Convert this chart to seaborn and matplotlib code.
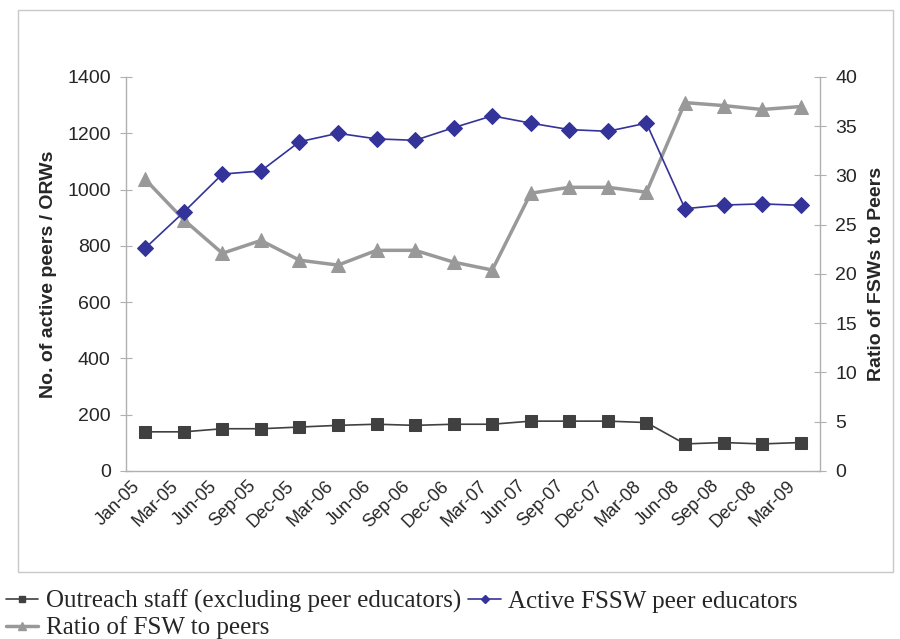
import numpy as np
import pandas as pd
import matplotlib
matplotlib.use("Agg")
import matplotlib.pyplot as plt
from matplotlib.patches import Rectangle
from matplotlib.lines import Line2D
import seaborn as sns

# data
periods = ["Jan-05", "Mar-05", "Jun-05", "Sep-05", "Dec-05", "Mar-06", "Jun-06", "Sep-06", "Dec-06",
           "Mar-07", "Jun-07", "Sep-07", "Dec-07", "Mar-08", "Jun-08", "Sep-08", "Dec-08", "Mar-09"]
outreach_staff = [139, 139, 150, 150, 156, 162, 166, 162, 166, 166, 177, 177, 177, 172, 96, 101, 96, 101]
active_peers = [792, 920, 1055, 1066, 1170, 1200, 1180, 1175, 1220, 1262, 1236, 1213, 1207, 1236,
                932, 945, 949, 944]
ratio_fsw = [29.6, 25.5, 22.1, 23.4, 21.4, 20.9, 22.4, 22.4, 21.2, 20.4, 28.2, 28.8, 28.8, 28.3,
             37.4, 37.1, 36.7, 37.0]

df = pd.DataFrame({"period": periods, "staff": outreach_staff,
                   "peers": active_peers, "ratio": ratio_fsw})
df["x"] = np.arange(len(df))

sns.set_style("white")
plt.rcParams["font.family"] = ["Liberation Sans", "DejaVu Sans"]

c_staff = "#404040"
c_peers = "#333399"
c_ratio = "#999999"
c_axis = "#b0b0b0"

fig = plt.figure(figsize=(9, 6.39), dpi=100)
ax = fig.add_axes([0.14, 0.263, 0.771, 0.6165])
ax2 = ax.twinx()

sns.lineplot(data=df, x="x", y="ratio", ax=ax2, color=c_ratio, lw=2.5, marker="^",
             markersize=10, markeredgecolor=c_ratio, zorder=2)
sns.lineplot(data=df, x="x", y="staff", ax=ax, color=c_staff, lw=1.2, marker="s",
             markersize=8, markeredgecolor=c_staff)
sns.lineplot(data=df, x="x", y="peers", ax=ax, color=c_peers, lw=1.2, marker="D",
             markersize=8.5, markeredgecolor=c_peers)

# left axis above right so blue/black lines sit on top
ax.set_zorder(ax2.get_zorder() + 1)
ax.patch.set_visible(False)

ax.set_xlim(-0.5, len(df) - 0.5)
ax.set_ylim(0, 1400)
ax2.set_ylim(0, 40)
ax.set_yticks(np.arange(0, 1401, 200))
ax2.set_yticks(np.arange(0, 41, 5))

# labels sit a little left of the category centre, like the Excel original
ax.set_xticks(df["x"] - 0.2)
ax.set_xticklabels(periods, rotation=45, ha="right", va="center", rotation_mode="anchor", fontsize=13)
ax.set_xticks(np.arange(-0.5, len(df), 1), minor=True)
ax.tick_params(axis="x", which="major", length=0, pad=9)
ax.tick_params(axis="x", which="minor", length=7, color=c_axis, direction="out")
ax.tick_params(axis="y", labelsize=14, length=8, color=c_axis, direction="inout", pad=7)
ax2.tick_params(axis="y", labelsize=14, length=8, color=c_axis, direction="inout", pad=7)

ax.set_xlabel("")
ax.set_ylabel("No. of active peers / ORWs", fontsize=14, fontweight="bold", labelpad=7.5)
ax2.set_ylabel("Ratio of FSWs to Peers", fontsize=14, fontweight="bold", labelpad=8)

for a in (ax, ax2):
    a.spines["top"].set_visible(False)
    for s in ("left", "right", "bottom"):
        a.spines[s].set_color(c_axis)
        a.spines[s].set_linewidth(1)
ax.spines["right"].set_visible(False)
ax2.spines["left"].set_visible(False)
ax2.spines["bottom"].set_visible(False)

# chart frame
fig.patches.append(Rectangle((18 / 900, 67 / 639), 875 / 900, 562 / 639, transform=fig.transFigure,
                             fill=False, edgecolor="#c8c8c8", lw=1))

handles = [
    Line2D([], [], color=c_staff, lw=1.2, marker="s", markersize=5),
    Line2D([], [], color=c_ratio, lw=2.5, marker="^", markersize=6),
    Line2D([], [], color=c_peers, lw=1.2, marker="D", markersize=4),
]
labels = ["Outreach staff (excluding peer educators)", "Ratio of FSW to peers",
          "Active FSSW peer educators"]
fig.legend(handles, labels, loc="lower left", bbox_to_anchor=(-0.016, -0.032), ncol=2, frameon=False,
           prop={"family": "Liberation Serif", "size": 18}, handlelength=1.3, handletextpad=0.3,
           columnspacing=0.3, labelspacing=0.12, borderpad=0.3)

fig.savefig("out.png", dpi=100)
